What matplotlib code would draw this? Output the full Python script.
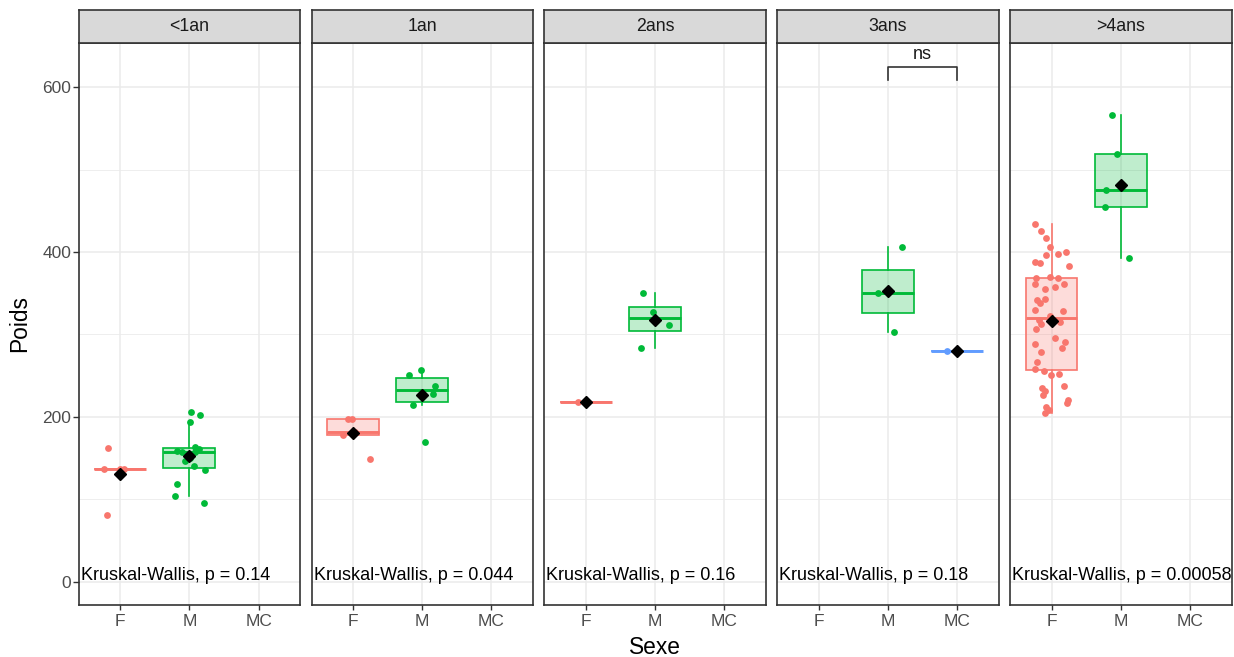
import numpy as np
import matplotlib
matplotlib.use("Agg")
import matplotlib.pyplot as plt

plt.rcParams['font.family'] = ['Liberation Sans', 'DejaVu Sans']

# --------------------------------------------------
# 	data : poids par classe d'age et par sexe
# --------------------------------------------------
ages = ["<1an", "1an", "2ans", "3ans", ">4ans"]
sexes = ["F", "M", "MC"]

lt1an_F = [81, 137, 137, 137, 162]
lt1an_M = [96, 104, 118, 136, 141, 146, 150, 157, 158, 159, 161, 163, 194, 202, 206]
an1_F = [149, 178, 182, 197, 198]
an1_M = [170, 215, 228, 238, 251, 257]
ans2_F = [218]
ans2_M = [283, 312, 327, 350]
ans3_M = [303, 350, 406]
ans3_MC = [280]
gt4ans_F = [434, 425, 417, 406, 400, 398, 397, 388, 387, 383,
            370, 368, 368, 361, 361, 358, 355, 343, 342, 338,
            330, 329, 323, 318, 315, 313, 307, 296, 291, 288,
            283, 279, 266, 258, 256, 252, 251, 238, 235, 232,
            227, 220, 217, 212, 208, 205]
gt4ans_M = [393, 455, 475, 519, 566]

kw_pvalues = ["0.14", "0.044", "0.16", "0.18", "0.00058"]

groups = [
	{"F": lt1an_F, "M": lt1an_M},
	{"F": an1_F, "M": an1_M},
	{"F": ans2_F, "M": ans2_M},
	{"M": ans3_M, "MC": ans3_MC},
	{"F": gt4ans_F, "M": gt4ans_M},
]

colors = {"F": "#F8766D", "M": "#00BA38", "MC": "#619CFF"}
border = "#333333"
grey_txt = "#4D4D4D"

# --------------------------------------------------
# 	layout (pixels)
# --------------------------------------------------
W, H = 1234, 657
lefts = [78.7, 311.5, 544.3, 777.2, 1010.0]
pw = 221.5
top, bottom, strip_top = 42.7, 605.3, 10.0

fig = plt.figure(figsize=(W / 100, H / 100), dpi=100)
rng = np.random.default_rng(11)

for i, age in enumerate(ages):
	ax = fig.add_axes([lefts[i] / W, 1 - bottom / H, pw / W, (bottom - top) / H])
	sax = fig.add_axes([lefts[i] / W, 1 - top / H, pw / W, (top - strip_top) / H])

	for k, sexe in enumerate(sexes):
		if sexe not in groups[i]:
			continue
		vals = np.array(groups[i][sexe], dtype=float)
		pos = k + 1
		c = colors[sexe]
		ax.boxplot([vals], positions=[pos], widths=0.75, whis=1.5,
			showfliers=False, showcaps=False, patch_artist=True,
			boxprops=dict(facecolor=matplotlib.colors.to_rgba(c, 0.25), edgecolor=c, linewidth=1.2),
			whiskerprops=dict(color=c, linewidth=1.2),
			medianprops=dict(color=c, linewidth=2.1),
			zorder=2)
		jit = rng.uniform(-0.25, 0.25, len(vals))
		ax.plot(pos + jit, vals, 'o', color=c, ms=4.9, mec='none', zorder=3)
		ax.plot(pos, vals.mean(), 'D', color='black', ms=5.8, zorder=4)

	ax.set_xlim(0.4, 3.6)
	ax.set_ylim(-28.6, 654)
	ax.set_xticks([1, 2, 3])
	ax.set_xticklabels(sexes)
	ax.set_yticks([0, 200, 400, 600])
	ax.set_yticks([100, 300, 500], minor=True)
	ax.grid(which='major', color='#EBEBEB', lw=1.1)
	ax.grid(which='minor', axis='y', color='#EBEBEB', lw=0.6)
	ax.set_axisbelow(True)
	ax.tick_params(axis='x', length=3.5, width=1.0, color=border, pad=2.5,
		labelsize=12.5, labelcolor=grey_txt)
	ax.tick_params(axis='y', which='minor', length=0)
	if i == 0:
		ax.tick_params(axis='y', which='major', length=4, width=1.0, color=border, pad=1.5,
			labelsize=12.5, labelcolor=grey_txt)
	else:
		ax.tick_params(axis='y', which='major', length=0, labelleft=False)
	for sp in ax.spines.values():
		sp.set_color(border)
		sp.set_linewidth(1.2)

	ax.text(0.43, 1.5, "Kruskal-Wallis, p = " + kw_pvalues[i], ha='left', va='baseline',
		fontsize=13, color='black', clip_on=True, zorder=5)

	# facet strip
	sax.set_facecolor('#D9D9D9')
	sax.set_xticks([])
	sax.set_yticks([])
	for sp in sax.spines.values():
		sp.set_color(border)
		sp.set_linewidth(1.2)
	sax.text(0.5, 0.5, age, ha='center', va='center', fontsize=12.8, color='#1A1A1A',
		transform=sax.transAxes)

	# comparaison M vs MC
	if age == "3ans":
		ax.plot([2, 2, 3, 3], [609, 625, 625, 609], color=border, lw=1.2, zorder=5)
		ax.text(2.5, 629, "ns", ha='center', va='bottom', fontsize=13, color='#1A1A1A')

fig.text(655 / W, 1 - 647 / H, "Sexe", ha='center', va='center', fontsize=16.4)
fig.text(20 / W, 1 - 324 / H, "Poids", ha='center', va='center', rotation=90, fontsize=16.4)

plt.savefig("out.png", dpi=100)
